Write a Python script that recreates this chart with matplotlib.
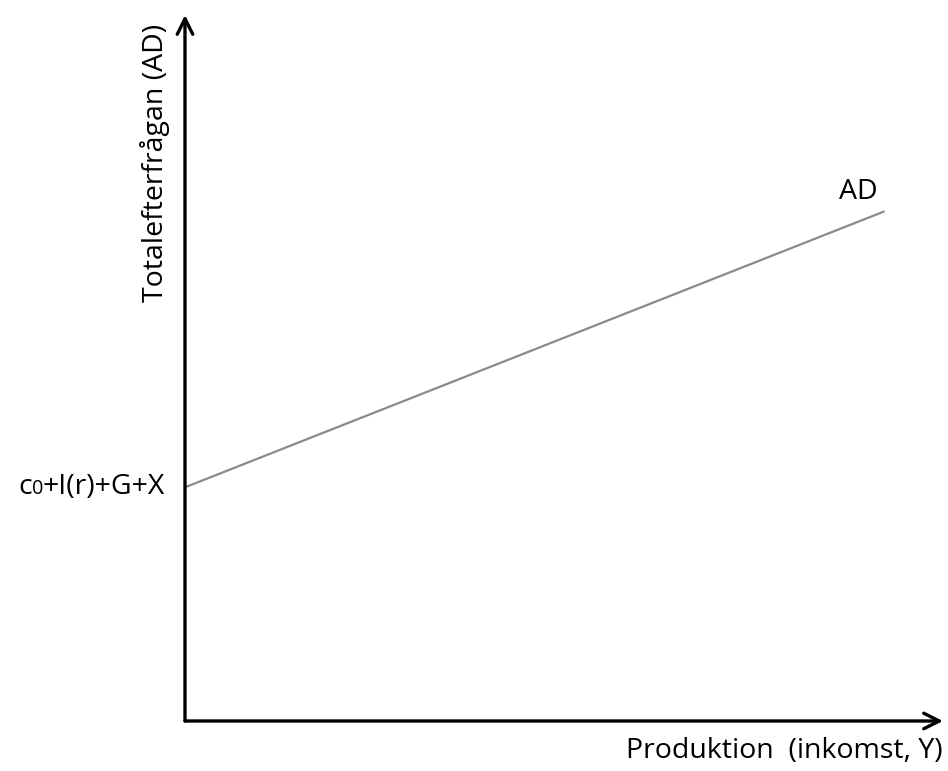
import matplotlib.pyplot as plt

plt.rcParams['font.family'] = ['Open Sans', 'DejaVu Sans']

# AD line: intercept c0+I(r)+G+X, positive slope (arbitrary units)
ad_x = [0, 92.3]
ad_y = [33.1, 72.2]
intercept_parts = ['c', '0', '+I(r)+G+X']
x_label = 'Produktion  (inkomst, Y)'
y_label = 'Totalefterfrågan (AD)'
line_label = 'AD'

fs = 20.5

fig = plt.figure(figsize=(9.48, 7.71), dpi=100)
ax = fig.add_axes([185 / 948, 50 / 771, 758 / 948, 706 / 771])
ax.set_xlim(0, 100)
ax.set_ylim(0, 100)
ax.axis('off')

# axes with open arrow heads
arrow = dict(arrowstyle='->', color='black', lw=2.4, mutation_scale=28,
             shrinkA=0, shrinkB=0)
ax.annotate('', xy=(100, 0), xytext=(0, 0), arrowprops=arrow, annotation_clip=False)
ax.annotate('', xy=(0, 100), xytext=(0, 0), arrowprops=arrow, annotation_clip=False)

ax.plot(ad_x, ad_y, color='#8a8a8a', lw=1.6, solid_capstyle='butt')

ax.text(ad_x[1] - 3.5, ad_y[1] + 0.8, line_label, fontsize=fs, ha='center', va='bottom')

# intercept label, built right to left so the "0" can be smaller
renderer = fig.canvas.get_renderer()
t_rest = ax.text(-2.6, ad_y[0] - 1.0, intercept_parts[2], fontsize=fs,
                 ha='right', va='baseline')
bb = t_rest.get_window_extent(renderer)
inv = ax.transData.inverted()
x_left = inv.transform((bb.x0, bb.y0))[0]
t_sub = ax.text(x_left, ad_y[0] - 1.0, intercept_parts[1], fontsize=fs * 0.7,
                ha='right', va='baseline')
bb = t_sub.get_window_extent(renderer)
x_left = inv.transform((bb.x0, bb.y0))[0]
ax.text(x_left, ad_y[0] - 1.0, intercept_parts[0], fontsize=fs,
        ha='right', va='baseline')

ax.text(-2.0, 79, y_label, fontsize=fs, rotation=90, ha='right', va='center')
ax.text(100, -4.3, x_label, fontsize=fs, ha='right', va='center')

fig.savefig('out.png', dpi=100)
